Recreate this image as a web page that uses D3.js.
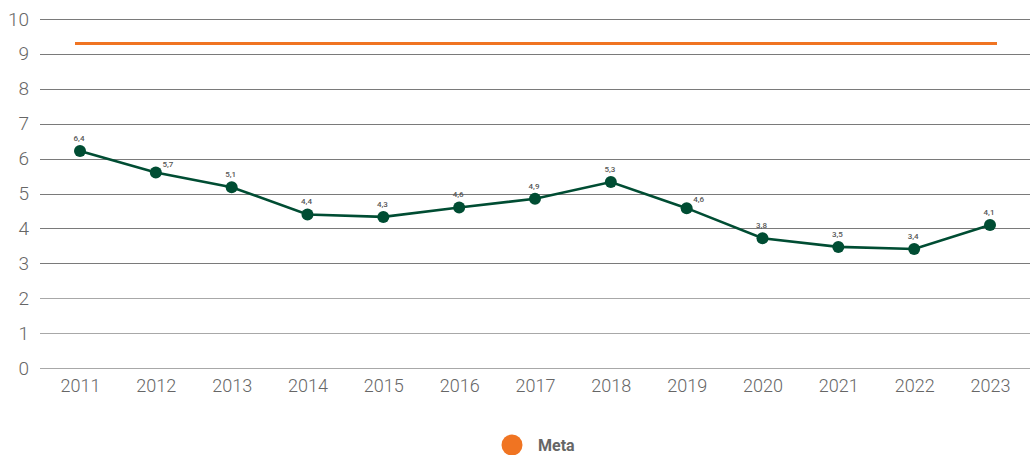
<!DOCTYPE html>
<html><head><meta charset="utf-8">
<script src="https://cdn.jsdelivr.net/npm/d3@7"></script>
<style>body{margin:0;background:#fff}svg{display:block}</style>
</head><body>
<svg id="c" width="1030" height="455"></svg>
<script>
const years = ["2011","2012","2013","2014","2015","2016","2017","2018","2019","2020","2021","2022","2023"];
const values = [6.22,5.6,5.18,4.4,4.33,4.6,4.85,5.33,4.58,3.72,3.47,3.41,4.1];
const valueLabels = ["6,4","5,7","5,1","4,4","4,3","4,6","4,9","5,3","4,6","3,8","3,5","3,4","4,1"];
const meta = 9.3;
const yTicks = [0,1,2,3,4,5,6,7,8,9,10];

const svg = d3.select("#c");
const x = d3.scalePoint().domain(years).range([80, 990]);
const y = d3.scaleLinear().domain([0, 10]).range([368, 19]);

const grid = svg.append("g");
grid.selectAll("line").data(yTicks).join("line")
  .attr("x1", 40).attr("x2", 1030)
  .attr("y1", d => Math.round(y(d)) + 0.5).attr("y2", d => Math.round(y(d)) + 0.5)
  .attr("stroke", d => d <= 2 ? "#a8a8a8" : "#7a7a7a").attr("stroke-width", 1.2);

const yAxis = d3.axisLeft(y).tickValues(yTicks).tickSize(0).tickPadding(0);
svg.append("g").attr("transform", "translate(29,0)").call(yAxis)
  .call(g => g.select(".domain").remove())
  .selectAll("text").attr("font-family", "Roboto").attr("font-weight", 300)
  .attr("font-size", 19).attr("fill", "#666");

const xAxis = d3.axisBottom(x).tickSize(0).tickPadding(0);
svg.append("g").attr("transform", "translate(0,379)").call(xAxis)
  .call(g => g.select(".domain").remove())
  .selectAll("text").attr("font-family", "Roboto").attr("font-weight", 300)
  .attr("font-size", 18).attr("fill", "#666");

svg.append("line")
  .attr("x1", 75).attr("x2", 997)
  .attr("y1", y(meta)).attr("y2", y(meta))
  .attr("stroke", "#f07422").attr("stroke-width", 3);

const line = d3.line().x((d, i) => x(years[i])).y(d => y(d));
svg.append("path").datum(values).attr("d", line)
  .attr("fill", "none").attr("stroke", "#004d33").attr("stroke-width", 2.6);

svg.selectAll("circle.pt").data(values).join("circle").attr("class", "pt")
  .attr("cx", (d, i) => x(years[i])).attr("cy", d => y(d)).attr("r", 6)
  .attr("fill", "#004d33");

svg.selectAll("text.lbl").data(values).join("text").attr("class", "lbl")
  .attr("x", (d, i) => x(years[i]) + (i === 1 || i === 8 ? 12 : -1))
  .attr("y", (d, i) => y(d) - (i === 1 || i === 8 ? 6 : 10))
  .attr("text-anchor", "middle")
  .attr("font-family", "Roboto").attr("font-weight", 500).attr("font-size", 8)
  .attr("fill", "#555")
  .text((d, i) => valueLabels[i]);

const lg = svg.append("g");
lg.append("circle").attr("cx", 512).attr("cy", 445).attr("r", 10.5).attr("fill", "#f07422");
lg.append("text").attr("x", 538).attr("y", 451)
  .attr("font-family", "Roboto").attr("font-weight", 700).attr("font-size", 16)
  .attr("fill", "#666").text("Meta");
</script>
</body></html>
